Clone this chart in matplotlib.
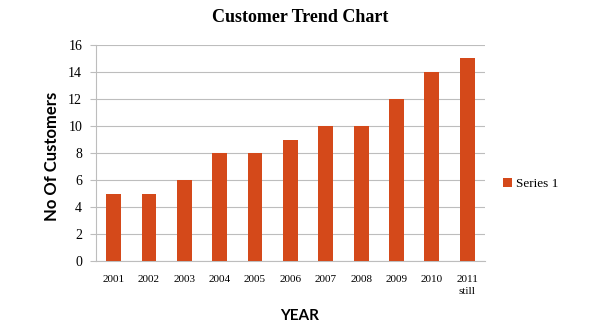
import matplotlib
matplotlib.use("Agg")
import matplotlib.pyplot as plt
import numpy as np

years = ["2001", "2002", "2003", "2004", "2005", "2006", "2007", "2008", "2009", "2010", "2011\nstill"]
customers = [5, 5, 6, 8, 8, 9, 10, 10, 12, 14, 15]

BAR_COLOR = "#D4491A"
GRID_COLOR = "#BDBDBD"
SERIF = ["Liberation Serif", "DejaVu Serif"]
SANS = ["Lato", "DejaVu Sans"]

fig = plt.figure(figsize=(6, 3.33), dpi=100)
ax = fig.add_axes([0.16, 0.216, 0.648, 0.649])

x = np.arange(len(years))
bars = ax.bar(x, customers, width=0.42, color=BAR_COLOR, label="Series 1", zorder=3)

ax.set_xlim(-0.5, len(years) - 0.5)
ax.set_ylim(0, 16)
ax.set_yticks(range(0, 17, 2))
ax.set_xticks(x)
ax.set_xticklabels(years, family=SERIF, fontsize=8, va="top", linespacing=1.5)
for lbl in ax.get_yticklabels():
    lbl.set_family(SERIF)
    lbl.set_fontsize(10)

ax.yaxis.grid(True, color=GRID_COLOR, linewidth=0.8, zorder=0)
for side in ["top", "right"]:
    ax.spines[side].set_visible(False)
ax.spines["left"].set_color(GRID_COLOR)
ax.spines["bottom"].set_color(GRID_COLOR)
ax.tick_params(axis="y", length=4, color=GRID_COLOR, pad=6)
ax.tick_params(axis="x", length=0, pad=10)

fig.text(0.5, 0.946, "Customer Trend Chart", ha="center", va="center",
         family=SERIF, fontsize=13, fontweight="bold")
fig.text(0.087, 0.53, "No Of Customers", ha="center", va="center", rotation=90,
         family=SANS, fontsize=12, fontweight="bold")
fig.text(0.5, 0.05, "YEAR", ha="center", va="center",
         family=SANS, fontsize=11, fontweight="bold")

leg = fig.legend(handles=[bars], labels=["Series 1"], loc="center left",
                 bbox_to_anchor=(0.818, 0.447), frameon=False,
                 prop={"family": SERIF, "size": 9.5},
                 handlelength=0.7, handleheight=0.7, handletextpad=0.3)

fig.savefig("out.png", dpi=100)
